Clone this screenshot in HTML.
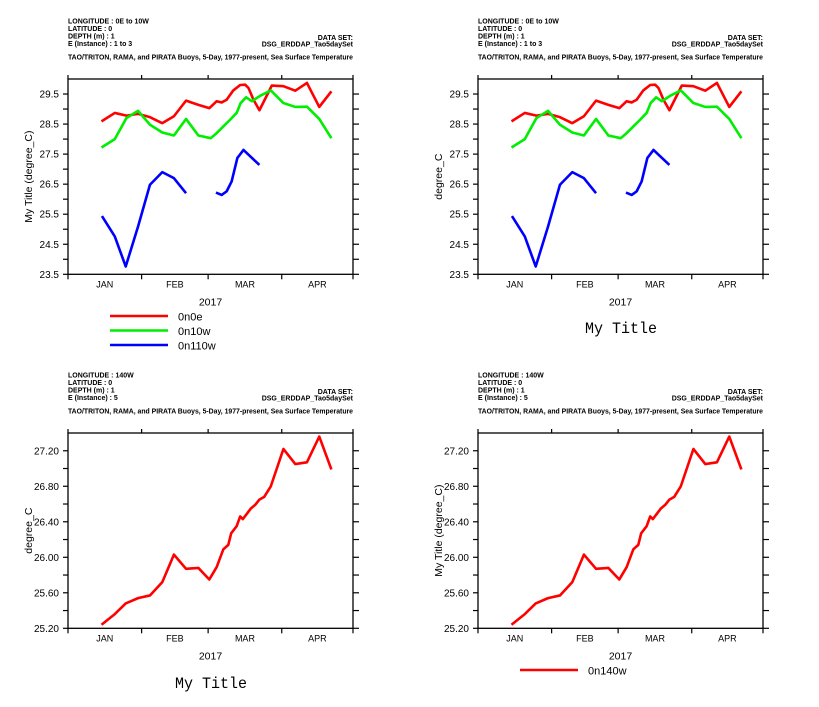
<!DOCTYPE html>
<html><head><meta charset="utf-8"><style>
html,body{margin:0;padding:0;background:#fff}
svg{display:block;font-family:"Liberation Sans",sans-serif}
</style></head><body>
<svg id="c" width="819" height="707" viewBox="0 0 819 707" xmlns="http://www.w3.org/2000/svg"></svg>
<script>
// ---- data ----
const monthLabels = ["JAN","FEB","MAR","APR"];
const monthStartDays = [0,31,59,90,120];
const yearLabel = "2017";
const daysA = [14.1,19.7,24.6,29.5,34.5,39.7,44.6,49.7,54.9,59.5,62.6,64.7,66.8,69.6,72.5,74.6,76.0,78.1,80.6,85.8,90.7,95.7,100.6,105.8,110.9];
const red0n0e = [28.59,28.87,28.78,28.84,28.73,28.53,28.76,29.28,29.14,29.03,29.26,29.22,29.31,29.62,29.80,29.81,29.70,29.31,28.96,29.78,29.76,29.61,29.87,29.07,29.59];
const daysB = [14.1,19.7,24.6,29.5,34.5,39.7,44.6,49.7,54.9,60.1,62.6,65.4,68.2,71.0,72.7,75.0,77.4,80.9,85.4,90.7,95.7,100.6,105.8,110.9];
const green0n10w = [27.72,28.0,28.7,28.94,28.48,28.22,28.12,28.67,28.12,28.03,28.2,28.42,28.64,28.87,29.2,29.39,29.26,29.44,29.62,29.2,29.07,29.08,28.67,28.03];
const daysC = [14.3,19.7,24.3,29.5,34.5,39.7,44.6,49.7,null,62.3,64.7,66.8,68.9,71.3,73.9,76.0,80.6];
const blue0n110w = [25.44,24.76,23.76,25.09,26.48,26.9,26.7,26.2,null,26.22,26.14,26.26,26.59,27.37,27.64,27.48,27.14];
const daysD = [14.1,19.7,24.3,29.5,34.5,39.7,44.6,49.7,54.9,59.5,62.6,65.4,67.5,68.7,71.0,72.5,73.6,75.3,77.0,78.8,80.6,82.6,85.4,90.7,95.7,100.6,105.8,110.9];
const red0n140w = [25.24,25.36,25.48,25.54,25.57,25.72,26.03,25.87,25.88,25.75,25.89,26.09,26.14,26.27,26.35,26.46,26.43,26.49,26.55,26.59,26.65,26.68,26.80,27.22,27.05,27.07,27.36,26.99];
const ticksTop = [23.5,24.5,25.5,26.5,27.5,28.5,29.5];
const ticksBot = [25.2,25.6,26.0,26.4,26.8,27.2];

const NS="http://www.w3.org/2000/svg";
const svg=document.getElementById('c');
function mk(tag,attrs,parent,text){const e=document.createElementNS(NS,tag);for(const k in attrs)e.setAttribute(k,attrs[k]);if(text!==undefined)e.textContent=text;(parent||svg).appendChild(e);return e;}

function panel(ox,oy,cfg){
  const g=mk('g',{});
  
  
  const L=ox+68,R=ox+353,T=oy+79,B=oy+274.3;
  const xs=d=>L+(d/120)*(R-L);
  const ys=v=>B-(v-cfg.ymin)/(cfg.ymax-cfg.ymin)*(B-T);
  const hd=mk('g',{'font-size':'7','font-weight':'bold',fill:'#000'},g);
  
  
  cfg.header.forEach((s,i)=>mk('text',{x:L,y:oy+23.5+i*7.5},hd,s));
  mk('text',{x:R,y:oy+40,'text-anchor':'end'},hd,'DATA SET:');
  mk('text',{x:R,y:oy+46.5,'text-anchor':'end'},hd,'DSG_ERDDAP_Tao5daySet');
  mk('text',{x:L,y:oy+59.5,textLength:R-L,lengthAdjust:'spacingAndGlyphs'},hd,'TAO/TRITON, RAMA, and PIRATA Buoys, 5-Day, 1977-present, Sea Surface Temperature');
  const fr=mk('rect',{x:L,y:T,width:R-L,height:B-T,fill:'none',stroke:'#000','stroke-width':1.3},g);
  
  
  monthStartDays.forEach(d=>{const x=xs(d);
    mk('line',{x1:x,x2:x,y1:B,y2:B+5,stroke:'#000','stroke-width':1.2},g);
    mk('line',{x1:x,x2:x,y1:T,y2:T-4,stroke:'#000','stroke-width':1.2},g);});
  monthLabels.forEach((m,i)=>{const t=mk('text',{x:xs((monthStartDays[i]+monthStartDays[i+1])/2),y:B+13,'text-anchor':'middle','font-size':'9'},g,m);
    
    });
  const yr=mk('text',{x:(L+R)/2,y:B+31,'text-anchor':'middle','font-size':'10.5'},g,yearLabel);
  
  
  cfg.ticks.forEach((v)=>{
    const y=ys(v);
    mk('line',{x1:L-5,x2:L,y1:y,y2:y,stroke:'#000','stroke-width':1.2},g);
    mk('line',{x1:R,x2:R+6,y1:y,y2:y,stroke:'#000','stroke-width':1.2},g);
    const t=mk('text',{x:L-9,y:y+3.5,'text-anchor':'end','font-size':'10'},g,v.toFixed(cfg.dec));
    
    
    const vm=v+cfg.minor;
    if(vm<cfg.ymax){const ym=ys(vm);
      mk('line',{x1:L-5,x2:L,y1:ym,y2:ym,stroke:'#000','stroke-width':1.2},g);
      mk('line',{x1:R,x2:R+6,y1:ym,y2:ym,stroke:'#000','stroke-width':1.2},g);}
  });
  const yt=mk('text',{transform:`translate(${ox+32},${(T+B)/2}) rotate(-90)`,'text-anchor':'middle','font-size':'10.5'},g,cfg.ytitle);
  
  
  cfg.series.forEach(s=>{
    let d='',pen=false;
    s.x.forEach((dv,i)=>{const v=s.y[i];
      if(dv===null||v===null){pen=false;return;}
      d+=(pen?'L':'M')+xs(dv).toFixed(2)+' '+ys(v).toFixed(2)+' ';pen=true;});
    const p=mk('path',{d:d,fill:'none',stroke:s.color,'stroke-width':2.6,'stroke-linejoin':'round'},g);
    
    
  });
  return g;
}
function legend(x,y,items){
  const g=mk('g',{});
  
  
  items.forEach((it,i)=>{
    const yy=y+i*14.5;
    mk('line',{x1:x,x2:x+58,y1:yy,y2:yy,stroke:it.color,'stroke-width':2.6},g);
    const t=mk('text',{x:x+68,y:yy+4.5,'font-size':'11'},g,it.label);
    
    
  });
}
function title(x,y){
  const t=mk('text',{x:x,y:y,'text-anchor':'middle','font-size':'16','font-family':'"Liberation Mono",monospace',textLength:72,lengthAdjust:'spacingAndGlyphs'},svg,'My Title');
  
  
}
const hTop=['LONGITUDE : 0E to 10W','LATITUDE : 0','DEPTH (m) : 1','E (Instance) : 1 to 3'];
const hBot=['LONGITUDE : 140W','LATITUDE : 0','DEPTH (m) : 1','E (Instance) : 5'];
const sTop=[{x:daysA,y:red0n0e,color:'#ff0000',label:'0n0e'},{x:daysB,y:green0n10w,color:'#00ee00',label:'0n10w'},{x:daysC,y:blue0n110w,color:'#0000ff',label:'0n110w'}];
const sBot=[{x:daysD,y:red0n140w,color:'#ff0000',label:'0n140w'}];
panel(0,0,{name:'panel-top-left',header:hTop,ymin:23.5,ymax:30.0,ticks:ticksTop,minor:0.5,dec:1,ytitle:'My Title (degree_C)',series:sTop});
panel(410,0,{name:'panel-top-right',header:hTop,ymin:23.5,ymax:30.0,ticks:ticksTop,minor:0.5,dec:1,ytitle:'degree_C',series:sTop});
panel(0,354,{name:'panel-bottom-left',header:hBot,ymin:25.2,ymax:27.4,ticks:ticksBot,minor:0.2,dec:2,ytitle:'degree_C',series:sBot});
panel(410,354,{name:'panel-bottom-right',header:hBot,ymin:25.2,ymax:27.4,ticks:ticksBot,minor:0.2,dec:2,ytitle:'My Title (degree_C)',series:sBot});
legend(110,316,[{label:'0n0e',color:'#ff0000'},{label:'0n10w',color:'#00ee00'},{label:'0n110w',color:'#0000ff'}]);
legend(520,670,[{label:'0n140w',color:'#ff0000'}]);
title(621,333);
title(211,688);
</script>
</body></html>
